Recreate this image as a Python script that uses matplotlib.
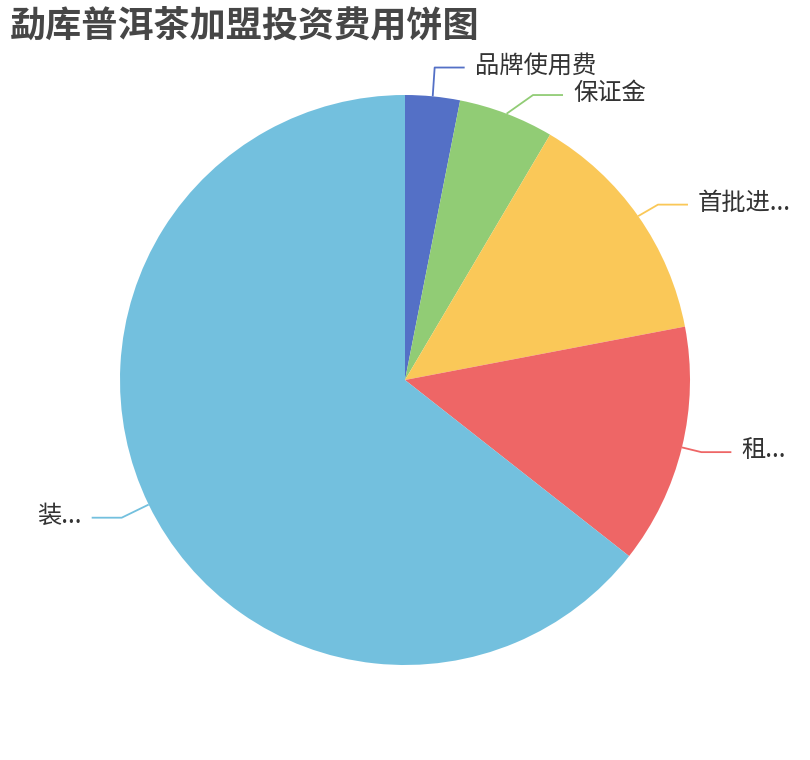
import numpy as np
from matplotlib import pyplot as plt

plt.rcParams['font.family'] = ['Noto Sans CJK SC', 'DejaVu Sans']

#---- Data (shares, percent)

labels = ['品牌使用费', '保证金', '首批进...', '租...', '装...']
values = [3.1, 5.4, 13.5, 13.6, 64.4]
colors = ['#5470c6', '#91cc75', '#fac858', '#ee6666', '#73c0de']

W, H = 810, 760
cx, cy, R = 405, H - 380, 285
LEN2 = 30        # horizontal piece of a label line
GAP = 27.5       # min vertical distance between labels on one side


def label_lines(wedges):
    """radial elbow, then push overlapping labels upward (roughly like echarts)"""
    items = []
    for w in wedges:
        mid = np.deg2rad((w.theta1 + w.theta2) / 2)
        dx, dy = np.cos(mid), np.sin(mid)
        side = 1 if dx >= 0 else -1
        ln = 20 if side > 0 else 30
        items.append(dict(start=(cx + R * dx, cy + R * dy), side=side, ln=ln,
                          ex=cx + (R + ln) * dx, ey=cy + (R + ln) * dy))
    for side in (1, -1):
        grp = sorted([it for it in items if it['side'] == side],
                     key=lambda it: it['ey'])
        moved = False
        for lo, hi in zip(grp[:-1], grp[1:]):
            d = hi['ey'] - lo['ey']
            if d < GAP:
                hi['ey'] += GAP - d
                moved = True
        if moved:
            top = [it for it in grp if it['ey'] > cy]
            ref = max(top, key=lambda it: it['ey'])
            rA = R + ref['ln']
            ddx = ref['ex'] - cx
            rB = (ref['ey'] - cy) / np.sqrt(1 - ddx ** 2 / rA ** 2)
            for it in top:
                rA = R + it['ln']
                ddy = it['ey'] - cy
                it['ex'] = cx + side * np.sqrt(max(0, 1 - ddy ** 2 / rB ** 2)) * rA
    return items


fig = plt.figure(figsize=(W / 100, H / 100), dpi=100)
ax = fig.add_axes([0, 0, 1, 1])

wedges, _ = ax.pie(values, colors=colors, startangle=90, counterclock=False,
                   center=(cx, cy), radius=R, wedgeprops={'linewidth': 0})

for it, lab, col in zip(label_lines(wedges), labels, colors):
    side = it['side']
    x0, y0 = it['start']
    x1, y1 = it['ex'], it['ey']
    x2 = x1 + side * LEN2
    ax.plot([x0, x1, x2], [y0, y1, y1], color=col, lw=1.3,
            solid_capstyle='butt', zorder=3)
    ax.text(x2 + side * 10, y1 + 2, lab, fontsize=17.5, color='#333333',
            ha='left' if side > 0 else 'right', va='center')

ax.text(10, H - 26, '勐库普洱茶加盟投资费用饼图', fontsize=26,
        fontweight='bold', color='#464646', ha='left', va='center')

ax.set_xlim(0, W)
ax.set_ylim(0, H)
ax.set_aspect('equal')
ax.axis('off')

fig.savefig('out.png', dpi=100)
